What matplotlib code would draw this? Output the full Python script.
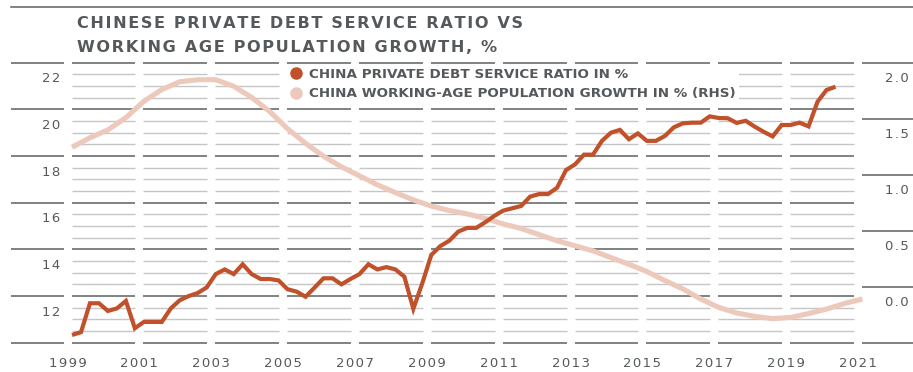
import matplotlib
matplotlib.use('Agg')
import matplotlib.pyplot as plt
from matplotlib.lines import Line2D
from matplotlib.transforms import ScaledTranslation
import numpy as np

# China private debt service ratio, %, quarterly 1999Q1 - 2020Q2 (left axis)
debt_ratio = [
    10.33, 10.45, 11.69, 11.69, 11.36, 11.47, 11.79, 10.62,
    10.89, 10.89, 10.89, 11.47, 11.82, 12.00, 12.13, 12.37,
    12.94, 13.14, 12.94, 13.36, 12.94, 12.73, 12.73, 12.67,
    12.29, 12.19, 11.97, 12.36, 12.76, 12.76, 12.50, 12.73,
    12.94, 13.36, 13.14, 13.24, 13.14, 12.83, 11.45, 12.55,
    13.76, 14.14, 14.37, 14.76, 14.92, 14.92, 15.16, 15.43,
    15.66, 15.76, 15.86, 16.26, 16.37, 16.37, 16.64, 17.40,
    17.64, 18.06, 18.06, 18.65, 19.00, 19.12, 18.72, 18.97,
    18.65, 18.65, 18.86, 19.23, 19.40, 19.43, 19.43, 19.70,
    19.63, 19.62, 19.42, 19.51, 19.26, 19.04, 18.84, 19.33,
    19.33, 19.43, 19.27, 20.33, 20.83, 20.97,
]

# China working-age population growth, %, half-yearly 1999H1 - 2021H1 (right axis)
pop_growth = [
    1.245, 1.33, 1.40, 1.51, 1.655, 1.76, 1.83, 1.848, 1.848, 1.79,
    1.69, 1.565, 1.41, 1.28, 1.165, 1.07, 0.99, 0.91, 0.84, 0.775,
    0.72, 0.68, 0.65, 0.61, 0.56, 0.52, 0.465, 0.41, 0.365, 0.32,
    0.26, 0.20, 0.135, 0.055, -0.02, -0.11, -0.185, -0.235, -0.265, -0.285,
    -0.275, -0.24, -0.20, -0.15, -0.11,
]

debt_t = 1999.125 + 0.25 * np.arange(len(debt_ratio))
pop_t = 1999.125 + 0.5 * np.arange(len(pop_growth))

left_ticks = [10, 12, 14, 16, 18, 20, 22]
right_ticks = [-0.5, 0.0, 0.5, 1.0, 1.5, 2.0]
year_ticks = list(range(1999, 2022, 2))

title_lines = ['CHINESE PRIVATE DEBT SERVICE RATIO VS',
               'WORKING AGE POPULATION GROWTH, %']
debt_label = 'CHINA PRIVATE DEBT SERVICE RATIO IN %'
pop_label = 'CHINA WORKING-AGE POPULATION GROWTH IN % (RHS)'

RED = '#c1512a'
PINK = '#edc9bb'
DARK = '#5d6062'
LIGHT = '#c6c6c6'
TEXT = '#55595c'

W, H = 913, 372
fig = plt.figure(figsize=(W / 100, H / 100), dpi=100)


def fx(px):
    return px / W


def fy(py):
    return 1 - py / H


def tracked(s):
    # hair spaces between letters to imitate the wide tracking
    return '\u200a'.join(s)


TOP, BOTTOM = 62.7, 342.7
X0, PX_YEAR = 67.5, 35.93

ax = fig.add_axes([0, fy(BOTTOM), 1, (BOTTOM - TOP) / H])
ax.set_xlim(1999 - X0 / PX_YEAR, 1999 + (W - X0) / PX_YEAR)
ax.set_ylim(10, 22)
ax2 = ax.twinx()
ax2.set_ylim(-0.5, 2.0)
ax3 = ax.twinx()
ax3.set_ylim(10, 22)
for a in (ax, ax2, ax3):
    a.axis('off')

# broken horizontal grid: columns between odd years, gutters at both sides
gap = 4 / PX_YEAR
cols = [(y + gap, y + 2 - gap) for y in year_ticks[:-1]]
left_gutter = (1999 - (X0 - 11) / PX_YEAR, 1999 - gap)
right_gutter = (2021 + gap, ax.get_xlim()[1])
for v in np.arange(10, 22.01, 0.5):
    major = v % 2 == 0
    for a0, a1 in cols:
        ax.hlines(v, a0, a1, color=DARK if major else LIGHT,
                  lw=1.1 if major else 1.0, zorder=3 if major else 1, clip_on=False)
    if major:
        ax.hlines(v, *left_gutter, color=DARK, lw=1.1, zorder=3, clip_on=False)
for v in right_ticks:
    ax2.hlines(v, *right_gutter, color=DARK, lw=1.1, clip_on=False)

ax2.plot(pop_t, pop_growth, color=PINK, lw=3.7, solid_capstyle='butt')
ax3.plot(debt_t, debt_ratio, color=RED, lw=3.0, solid_joinstyle='miter',
         solid_capstyle='butt')

# tick labels sit just under their grid line
below = ScaledTranslation(0, -0.197, fig.dpi_scale_trans)
for v in left_ticks[1:]:
    ax.text(fx(60), v, tracked(f'{v}'), transform=ax.get_yaxis_transform() + below,
            ha='right', va='baseline', fontsize=9.5, color=TEXT)
for v in right_ticks[1:]:
    ax2.text(fx(909), v, tracked(f'{v:.1f}'), transform=ax2.get_yaxis_transform() + below,
             ha='right', va='baseline', fontsize=9.5, color=TEXT)
xbelow = ScaledTranslation(0, -0.24, fig.dpi_scale_trans)
for y in year_ticks:
    ax.text(y, 0, tracked(str(y)), transform=ax.get_xaxis_transform() + xbelow,
            ha='center', va='baseline', fontsize=9.5, color=TEXT)

handles = [Line2D([], [], ls='none', marker='o', markersize=8, color=RED),
           Line2D([], [], ls='none', marker='o', markersize=8, color=PINK)]
leg = ax.legend(handles, [debt_label, pop_label], loc='upper left',
                bbox_to_anchor=(fx(287), fy(65.5)), bbox_transform=fig.transFigure,
                frameon=True, facecolor='white', edgecolor='none', framealpha=1,
                fancybox=False, borderpad=0.2, borderaxespad=0, handlelength=1.0,
                handletextpad=0.45, labelspacing=0.45, labelcolor=TEXT,
                prop={'weight': 'bold', 'size': 9.7})
leg.set_zorder(2)

fig.text(fx(77), fy(28.3), tracked(title_lines[0]), fontsize=11.6, fontweight='bold',
         color=TEXT, va='baseline')
fig.text(fx(77), fy(52.3), tracked(title_lines[1]), fontsize=11.6, fontweight='bold',
         color=TEXT, va='baseline')
fig.add_artist(Line2D([fx(11), 1], [fy(6.7), fy(6.7)], color=DARK, lw=1.1))

fig.savefig('out.png', dpi=100)
